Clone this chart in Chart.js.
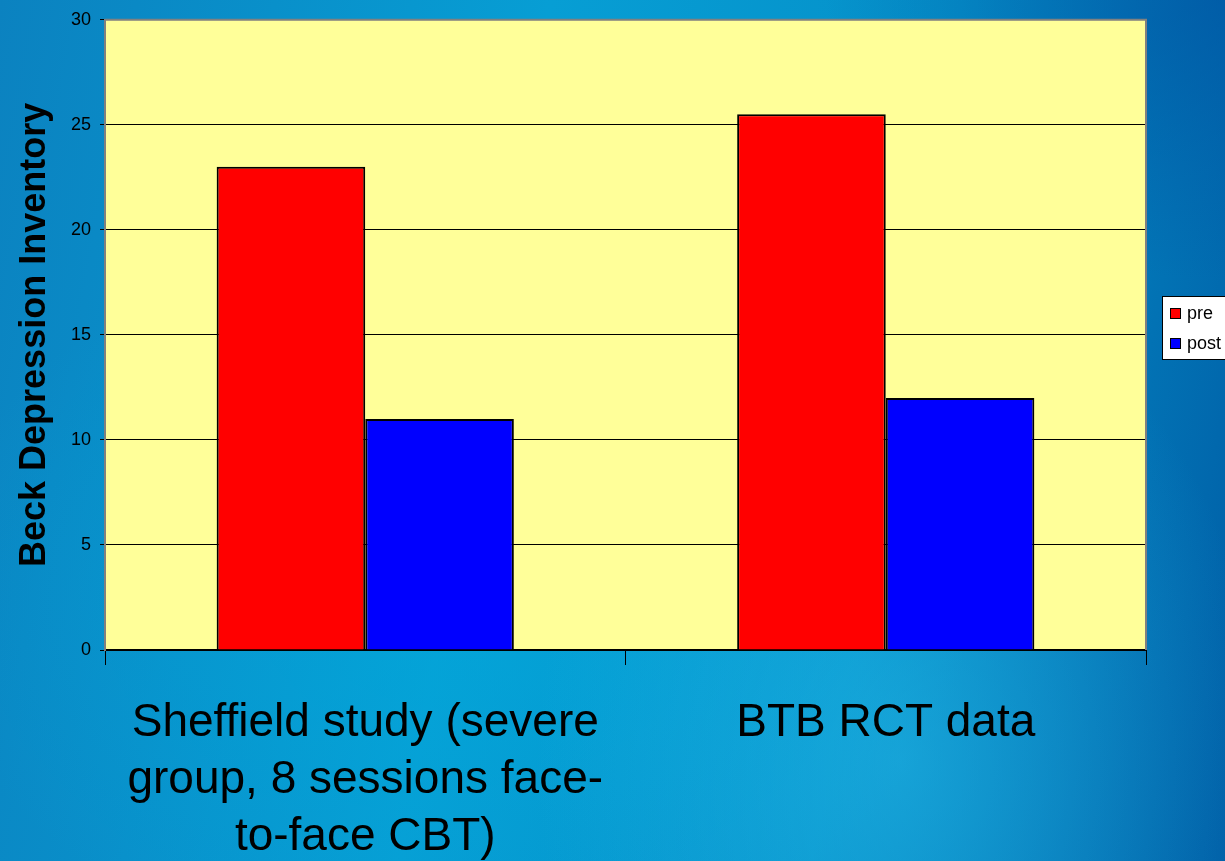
<!DOCTYPE html>
<html>
<head>
<meta charset="utf-8">
<script src="https://cdn.jsdelivr.net/npm/chart.js@4/dist/chart.umd.min.js"></script>
<style>
  html, body { margin: 0; padding: 0; }
  body {
    width: 1225px; height: 861px; overflow: hidden;
    background:
      radial-gradient(ellipse 520px 700px at 900px 760px, rgba(40,190,235,0.5), rgba(40,190,235,0) 70%),
      radial-gradient(ellipse 700px 500px at 450px 600px, rgba(0,170,220,0.5), rgba(0,170,220,0) 75%),
      radial-gradient(ellipse 500px 350px at 1225px 0px, rgba(0,80,160,0.6), rgba(0,80,160,0) 80%),
      linear-gradient(100deg, #0b82c0 0%, #079ed4 40%, #0590c9 70%, #005ea6 100%);
  }
  #wrap { position: absolute; left: 0; top: 0; width: 1225px; height: 861px; }
</style>
</head>
<body>
<div id="wrap"><canvas id="chart" width="1225" height="861"></canvas></div>
<script>
// categories and series
const categories = [
  ["Sheffield study (severe", "group, 8 sessions face-", "to-face CBT)"],
  "BTB RCT data"
];
const preValues = [23, 25.5];
const postValues = [11, 12];
const seriesNames = ["pre", "post"];
const seriesColors = ["#ff0000", "#0000ff"];
const yTicks = [0, 5, 10, 15, 20, 25, 30];

const FONT = "'Liberation Sans', Arial, sans-serif";

// yellow plot area + grey frame
const plotArea = {
  id: "plotArea",
  beforeDraw(chart) {
    const { ctx, chartArea: a } = chart;
    ctx.save();
    ctx.fillStyle = "#ffff99";
    ctx.fillRect(a.left, a.top, a.right - a.left, a.bottom - a.top);
    ctx.restore();
  },
  afterDraw(chart) {
    const { ctx, chartArea: a } = chart;
    ctx.save();
    ctx.strokeStyle = "#808080";
    ctx.lineWidth = 2;
    ctx.beginPath();
    ctx.moveTo(a.left, a.top);
    ctx.lineTo(a.right, a.top);
    ctx.lineTo(a.right, a.bottom);
    ctx.stroke();
    ctx.restore();
  }
};

// boxed legend on the right edge
const boxLegend = {
  id: "boxLegend",
  afterDraw(chart) {
    const ctx = chart.ctx;
    const x = 1162, y = 296, w = 80, h = 63;
    ctx.save();
    ctx.fillStyle = "#ffffff";
    ctx.fillRect(x, y, w, h);
    ctx.strokeStyle = "#000000";
    ctx.lineWidth = 1;
    ctx.strokeRect(x + 0.5, y + 0.5, w, h);
    ctx.font = "18px " + FONT;
    ctx.textBaseline = "middle";
    chart.data.datasets.forEach((ds, i) => {
      const cy = y + 17 + i * 30;
      ctx.fillStyle = ds.backgroundColor;
      ctx.fillRect(x + 8, cy - 5, 11, 11);
      ctx.strokeRect(x + 8.5, cy - 4.5, 10, 10);
      ctx.fillStyle = "#000000";
      ctx.fillText(ds.label, x + 25, cy + 1);
    });
    ctx.restore();
  }
};

new Chart(document.getElementById("chart"), {
  type: "bar",
  data: {
    labels: categories,
    datasets: [
      { label: seriesNames[0], data: preValues, backgroundColor: seriesColors[0] },
      { label: seriesNames[1], data: postValues, backgroundColor: seriesColors[1] }
    ]
  },
  options: {
    responsive: false,
    devicePixelRatio: 1,
    animation: false,
    layout: { padding: { top: 16, right: 79, left: 0, bottom: 0 } },
    datasets: {
      bar: { categoryPercentage: 0.571, barPercentage: 1, borderColor: "#000000", borderWidth: 2 }
    },
    plugins: {
      legend: { display: false },
      tooltip: { enabled: false }
    },
    scales: {
      x: {
        afterFit(s) { s.height = 211; },
        grid: { offset: true, drawOnChartArea: false, drawTicks: true, tickLength: 15, color: "#000000" },
        border: { color: "#000000", width: 2 },
        ticks: {
          color: "#000000",
          font: { family: FONT, size: 46, lineHeight: 1.24 },
          padding: 30,
          maxRotation: 0,
          autoSkip: false
        }
      },
      y: {
        min: 0,
        max: 30,
        afterBuildTicks(s) { s.ticks = yTicks.map(v => ({ value: v })); },
        afterFit(s) { s.width = 105; },
        grid: {
          color: c => c.tick && c.tick.value === 30 ? "#808080" : "#000000",
          tickColor: "#000000",
          tickLength: 5,
          lineWidth: 1
        },
        border: { color: "#808080", width: 2 },
        ticks: { color: "#000000", font: { family: FONT, size: 18 }, padding: 9 },
        title: {
          display: true,
          text: "Beck Depression Inventory",
          color: "#000000",
          font: { family: FONT, size: 36, weight: "bold" },
          padding: { top: 13, bottom: 0 }
        }
      }
    }
  },
  plugins: [plotArea, boxLegend]
});
</script>
</body>
</html>
